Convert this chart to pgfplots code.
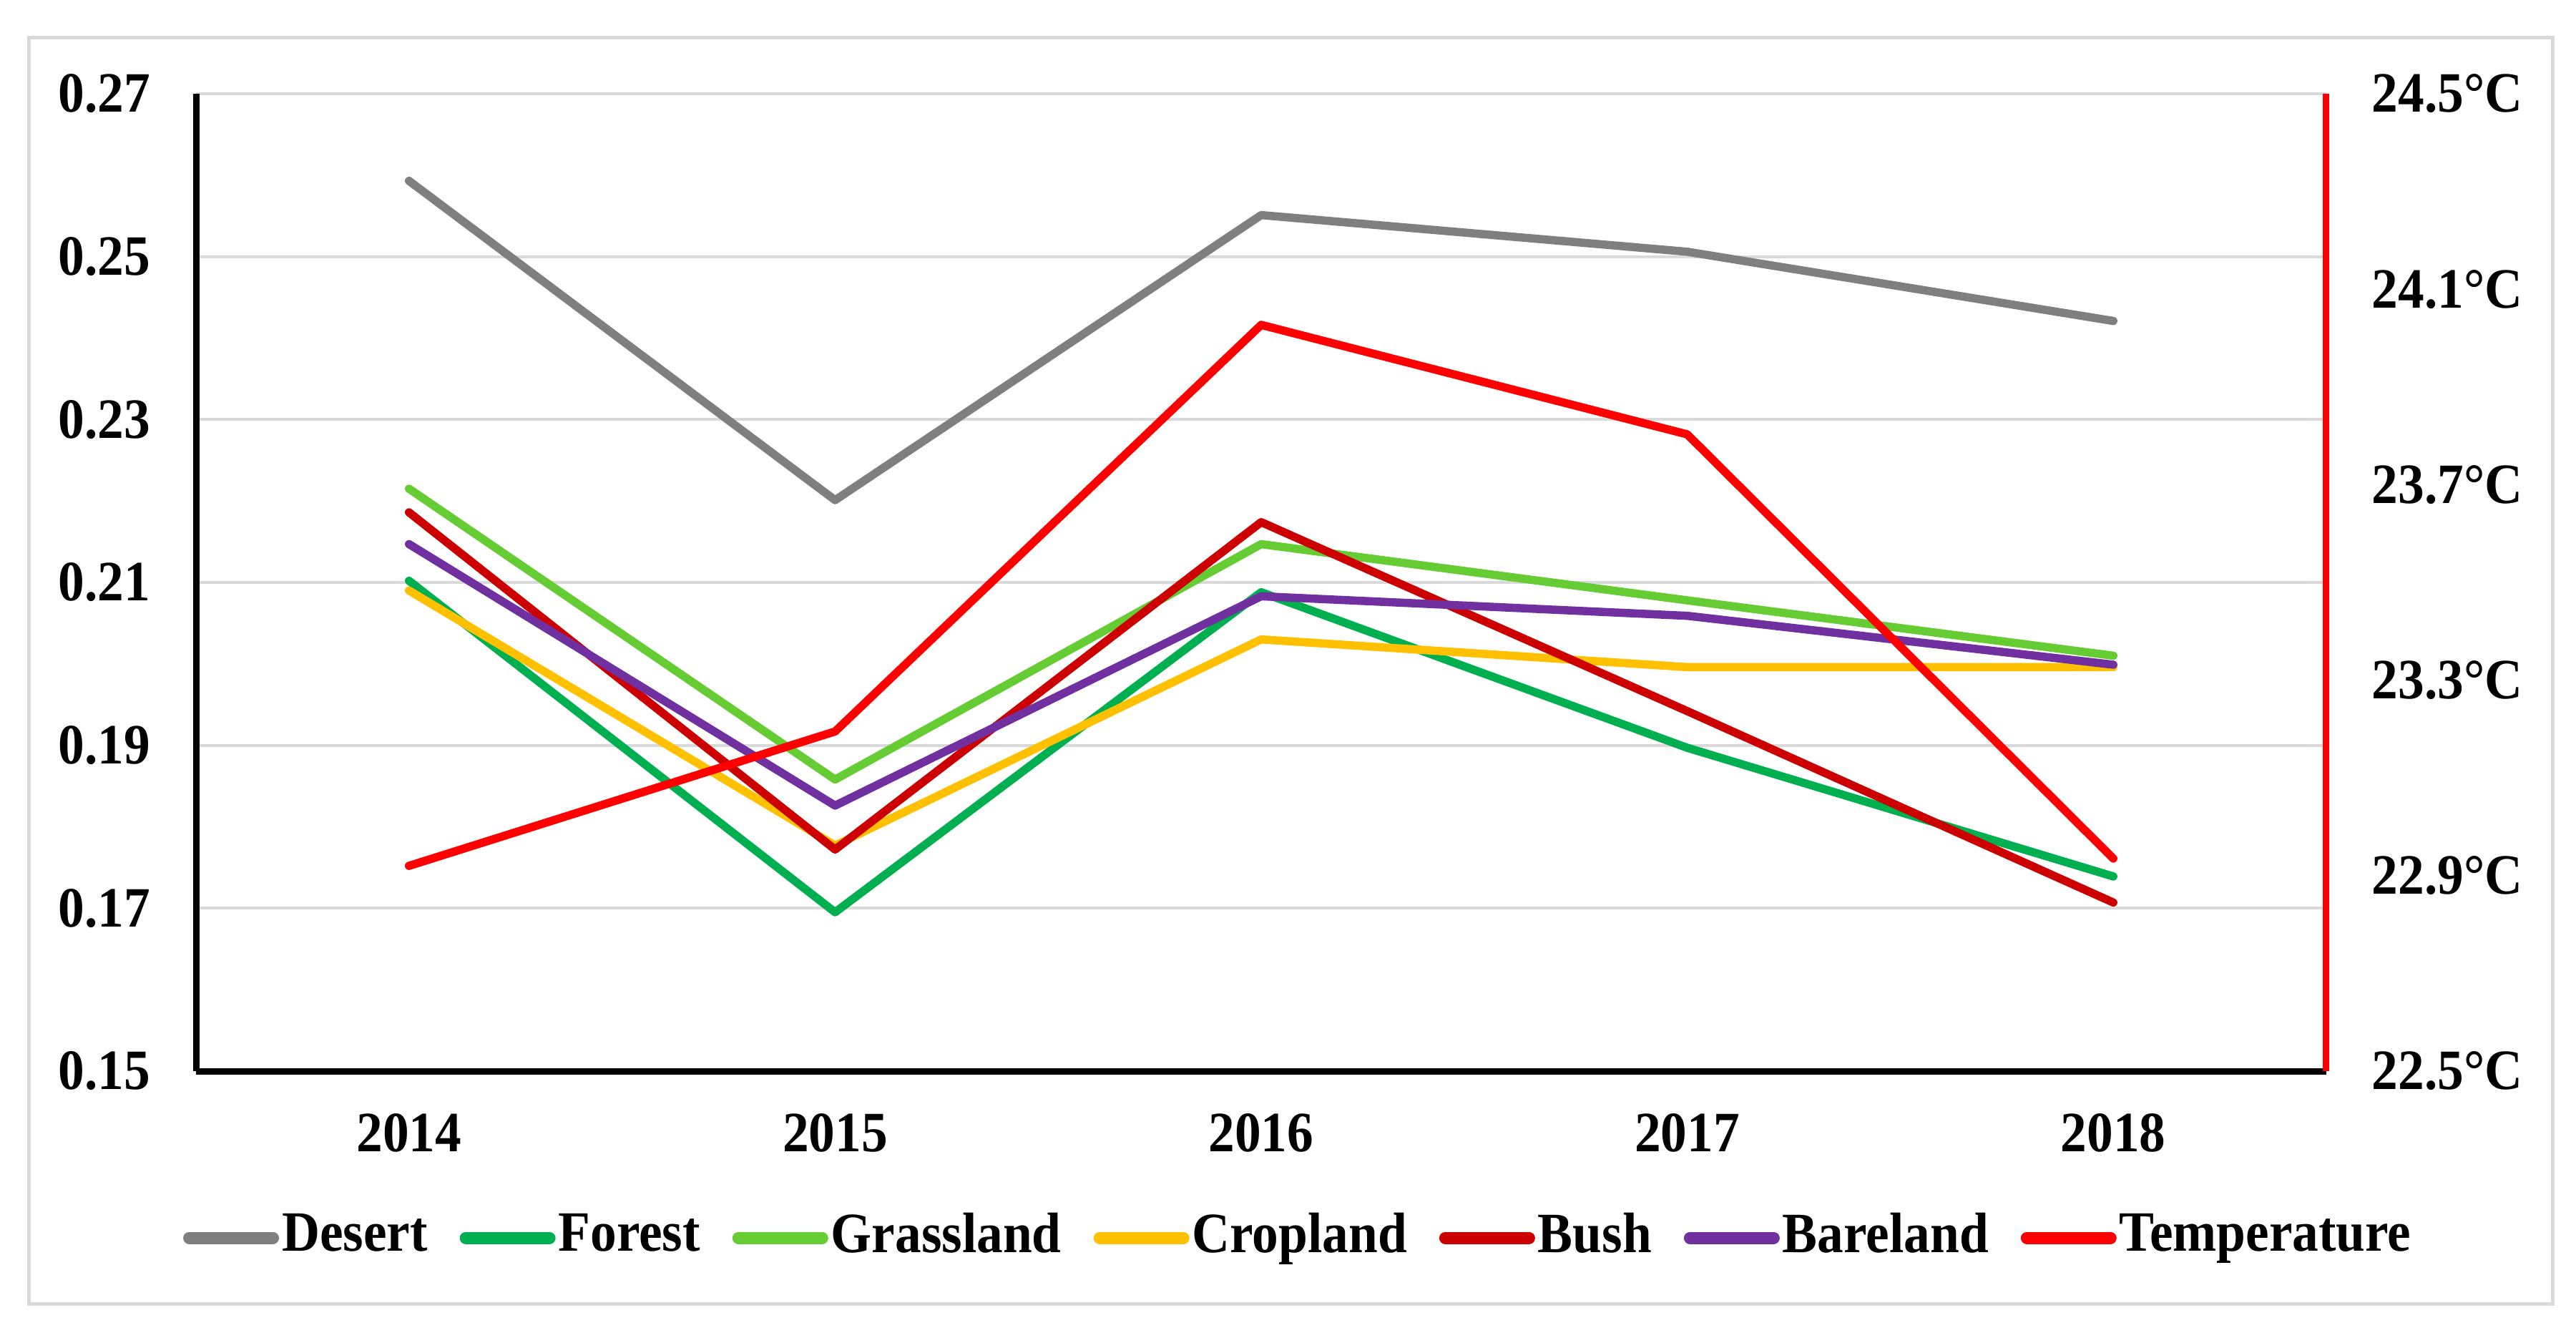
\documentclass[border=0pt]{standalone}
\usepackage{fontspec}
\setmainfont{Liberation Serif}[FakeStretch=0.92]
\usepackage{pgfplots}
\usepackage{pgfplotstable}
\pgfplotsset{compat=1.18}
\definecolor{cDesert}{RGB}{127,127,127}
\definecolor{cForest}{RGB}{0,176,80}
\definecolor{cGrass}{RGB}{102,204,51}
\definecolor{cCrop}{RGB}{255,192,0}
\definecolor{cBush}{RGB}{204,0,0}
\definecolor{cBare}{RGB}{112,48,160}
\definecolor{cTemp}{RGB}{255,0,0}
\definecolor{gridgray}{RGB}{217,217,217}
\pgfplotstableread{
x Desert Forest Grassland Cropland Bush Bareland
0 0.2593 0.2102 0.2215 0.2090 0.2186 0.2147
1 0.2201 0.1695 0.1858 0.1777 0.1772 0.1826
2 0.2551 0.2088 0.2147 0.2030 0.2174 0.2083
3 0.2506 0.1897 0.2078 0.1996 0.1942 0.2059
4 0.2421 0.1739 0.2010 0.1996 0.1707 0.1999
}\landtable
\pgfplotstableread{
x Temperature
0 22.920
1 23.195
2 24.027
3 23.803
4 22.935
}\temptable
\newcommand{\lblfont}{\bfseries\fontsize{8}{9.6}\selectfont}
\begin{document}
\begin{tikzpicture}
\useasboundingbox (0,0) rectangle (360.1bp,187bp);
\fill[white] (0,0) rectangle (360.1bp,187bp);
\draw[line width=0.5bp, gridgray] (4.07bp,4.7bp) rectangle (356.8bp,181.7bp);
\begin{axis}[
  at={(27.4bp,37.3bp)}, anchor=south west,
  scale only axis, width=297.8bp, height=136.6bp,
  xmin=-0.5, xmax=4.5, ymin=0.15, ymax=0.27,
  xtick={0,1,2,3,4}, xticklabels={2014,2015,2016,2017,2018},
  ytick={0.15,0.17,0.19,0.21,0.23,0.25,0.27},
  yticklabels={0.15,0.17,0.19,0.21,0.23,0.25,0.27},
  axis x line*=bottom, axis y line*=left,
  axis line style={black, line width=0.9bp},
  major tick length=0pt,
  ymajorgrids, major grid style={gridgray, line width=0.4bp},
  tick label style={font=\lblfont},
  yticklabel style={anchor=east, inner sep=0pt},
  yticklabel shift=6.2bp,
  xticklabel style={anchor=north, inner sep=0pt},
  xticklabel shift=5.7bp,
  every axis plot/.append style={line width=1.15bp, line join=round, line cap=round, mark=none},
  legend style={at={(0.5175,-0.1706)}, anchor=center, draw=none, fill=none,
    legend columns=-1, font=\lblfont, inner sep=0pt, nodes={inner sep=0.4bp},
    /tikz/every even column/.append style={column sep=4.1bp}},
  legend image code/.code={\draw[#1, line width=1.7bp, line cap=round] (0.8bp,0bp) -- (12.5bp,0bp);},
]
\addplot[cDesert] table[x=x, y=Desert] {\landtable};
\addlegendentry{Desert}
\addplot[cForest] table[x=x, y=Forest] {\landtable};
\addlegendentry{Forest}
\addplot[cGrass] table[x=x, y=Grassland] {\landtable};
\addlegendentry{Grassland}
\addplot[cCrop] table[x=x, y=Cropland] {\landtable};
\addlegendentry{Cropland}
\addplot[cBush] table[x=x, y=Bush] {\landtable};
\addlegendentry{Bush}
\addplot[cBare] table[x=x, y=Bareland] {\landtable};
\addlegendentry{Bareland}
\addlegendimage{cTemp}
\addlegendentry{Temperature}
\end{axis}
\begin{axis}[
  at={(27.4bp,37.3bp)}, anchor=south west,
  scale only axis, width=297.8bp, height=136.6bp,
  xmin=-0.5, xmax=4.5, ymin=22.5, ymax=24.5,
  axis x line=none, axis y line*=right,
  axis line style={cTemp, line width=0.9bp},
  major tick length=0pt, xtick=\empty,
  ytick={22.5,22.9,23.3,23.7,24.1,24.5},
  yticklabels={22.5°C,22.9°C,23.3°C,23.7°C,24.1°C,24.5°C},
  tick label style={font=\lblfont},
  yticklabel style={anchor=west, inner sep=0pt},
  yticklabel shift=6.2bp,
]
\addplot[cTemp, line width=1.15bp, line join=round, line cap=round, mark=none] table[x=x, y=Temperature] {\temptable};
\end{axis}
\end{tikzpicture}
\end{document}
